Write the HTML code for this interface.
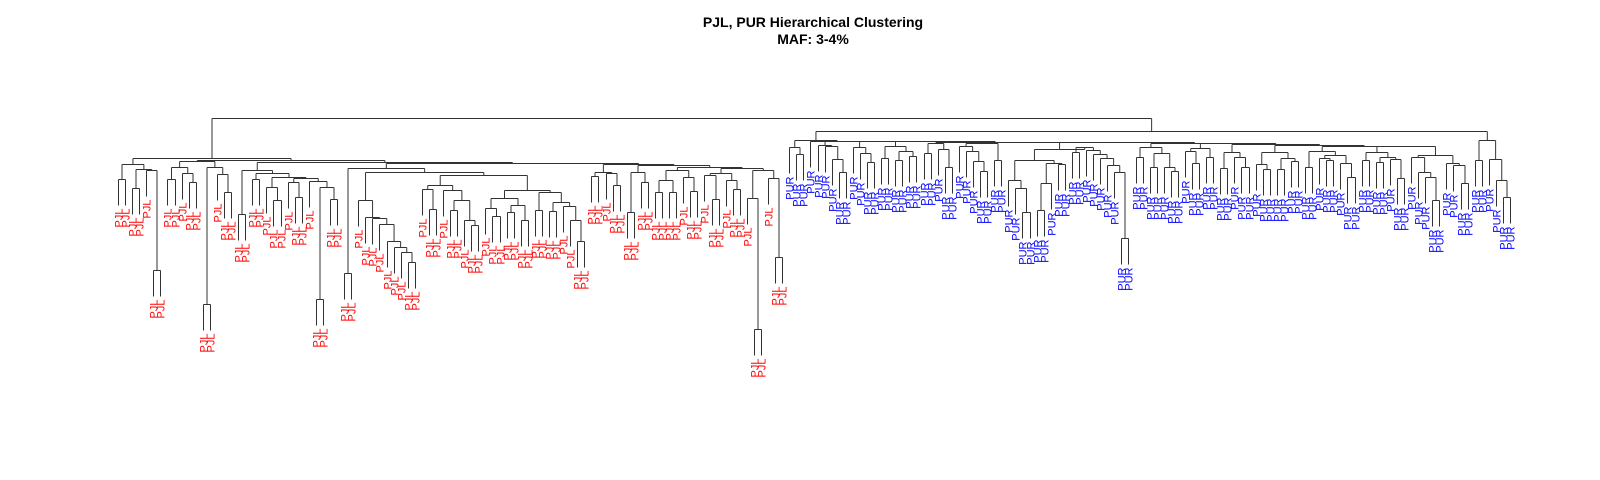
<!DOCTYPE html>
<html><head><meta charset="utf-8">
<style>
html,body{margin:0;padding:0;background:#fff;}
svg{display:block;}
</style></head>
<body>
<svg id="chart" width="1600" height="480" viewBox="0 0 1600 480" xmlns="http://www.w3.org/2000/svg">
<rect width="1600" height="480" fill="#fff"/>
<text x="813" y="27" text-anchor="middle" font-family="Liberation Sans, sans-serif" font-weight="bold" font-size="14" fill="#000">PJL, PUR Hierarchical Clustering</text>
<text x="813" y="44" text-anchor="middle" font-family="Liberation Sans, sans-serif" font-weight="bold" font-size="14" fill="#000">MAF: 3-4%</text>
<g id="links"></g>
<g id="labels"></g>
</svg>
<script>
// population labels
const J = 'PJL';
const R = 'PUR';
const labelColors = {PJL: '#ff0000', PUR: '#0000ff'};

// merge heights (h) and leaves as nested [height, childA, childB]
const G1 = [296, [281,J,J], [291,[272,J,J],[290,J,[190,J,J]]]];
const G2 = [293, [281,J,J], [287,J,[278,J,J]]];
const G3 = [293, [156,J,J], [286,J,[268,J,J]]];
const G4 = [290, [246,J,J], [287,[281,J,J],[283,[273,J,[260,J,J]],[282,[278,J,[263,J,J]],[279,J,[273,[161,J,J],[261,J,J]]]]]]];
const LADDER = [260,J,[243,J,[242,J,[236,J,[219,J,[213,J,[208,J,[198,J,J]]]]]]]];
const M1 = [275, [271,J,[251,J,J]], [270,J,[260,[250,J,J],[240,J,[235,J,J]]]]];
const M2A = [262, [252,J,[244,J,J]], [255,[248,J,J],[240,J,J]]];
const M2B = [268, [250,J,J], [258,[249,J,J],[254,J,[240,J,[219,J,J]]]]];
const G5 = [292, [187,J,J], [288, LADDER, [285, M1, [270, M2A, M2B]]]];
const G6 = [288, [284,J,J], [287,J,[275,J,J]]];
const G7 = [295, [288,[248,J,J],[278,J,J]], [293, [290,[280,[268,J,J],[268,J,J]],[283,J,[269,J,J]]], [292,[287,[285,J,[261,J,J]],[280,J,[271,J,J]]],[290,[262,J,[131,J,J]],[282,J,[203,J,J]]]]]];
const PJL = [302, G1, [300, [299, G2, G3], [298, G4, [297, G5, [296, G6, G7]]]]];

const C1 = [313, R, [306,R,R]];
const C2 = R;
const C3 = [315, R, [314,R,[301,R,[288,R,R]]]];
const C4 = [313, R, [307,R,[298,R,R]]];
const C5 = [314, [302,R,R], [309,[300,R,R],[304,R,R]]];
const C6 = [317, [307,R,R], [311,R,[293,R,R]]];
const C7 = [317, [314,R,[309,R,[299,R,[289,R,R]]]], [300,R,R]];
const C8A = [300, [280,R,[272,R,[248,R,R]]], [297,[277,[250,R,R],R],[296,R,R]]];
const C8B = [313, [308,R,R], [310,R,[306,R,[302,R,[295,R,[288,R,[222,R,R]]]]]]];
const C8 = [311, C8A, C8B];
const D1 = [313, [303,R,R], [307,[293,R,R],[293,R,[289,R,R]]]];
const D2 = [312, [309,R,[297,R,R]], [303,R,R]];
const D3 = [308, [292,R,R], [303,R,[293,R,R]]];
const D4 = [308, [296,R,[291,R,R]], [302,[291,R,R],[299,R,R]]];
const D5 = [309, [293,R,R], [305,[302,R,[300,R,R]],[297,R,[283,R,R]]]];
const D6 = [308, [300,R,R], [303,[298,R,R],[301,R,[282,R,R]]]];
const D7 = [305, [303,R,[288,R,[283,R,[260,R,R]]]], [297,R,[295,R,[277,R,R]]]];
// main PUR group is a right-nested chain of these clusters
const PUR_CLUSTERS = [C1, C2, C3, C4, C5, C6, C7, C8, D1, D2, D3, D4, D5, D6, D7];
const PUR_CHAIN_H = [320, 319.5, 319, 318.8, 318.6, 318.4, 318.2, 318, 317.5, 317, 316, 315, 314.5, 314];
const PUR_SMALL = [320, [300,R,R], [301,R,[280,R,[263,R,R]]]];
const ROOT_H = 342;
const PUR_H = 329;

function buildChain(list, hs){
  let node = list[list.length - 1];
  for (let i = list.length - 2; i >= 0; i--) node = [hs[i], list[i], node];
  return node;
}
const PUR = [PUR_H, buildChain(PUR_CLUSTERS, PUR_CHAIN_H), PUR_SMALL];
const ROOT = [ROOT_H, PJL, PUR];

// axis / layout functions
const X0 = 118, X1 = 1510, HANG = 26;
function yScale(h){ return 460 - h; }
function countLeaves(n){ return typeof n === 'string' ? 1 : countLeaves(n[1]) + countLeaves(n[2]); }
const nLeaves = countLeaves(ROOT);
function xScale(i){ return X0 + i * (X1 - X0) / (nLeaves - 1); }

const NS = 'http://www.w3.org/2000/svg';
const gL = document.getElementById('links');
const gT = document.getElementById('labels');
let leafIdx = 0;

function line(x1,y1,x2,y2,name){
  const l = document.createElementNS(NS,'line');
  l.setAttribute('x1', x1); l.setAttribute('y1', y1);
  l.setAttribute('x2', x2); l.setAttribute('y2', y2);
  l.setAttribute('stroke', '#333'); l.setAttribute('stroke-width', '1');
  
  
  gL.appendChild(l);
}

function layout(node, parentY){
  if (typeof node === 'string'){
    const x = Math.round(xScale(leafIdx++)) + 0.5;
    const yEnd = parentY + HANG;
    line(x, parentY, x, yEnd, 'leaf-branch');
    const t = document.createElementNS(NS,'text');
    t.setAttribute('transform', 'translate(' + (x + 4) + ',' + (yEnd + 3) + ') rotate(-90)');
    t.setAttribute('text-anchor', 'end');
    t.setAttribute('font-family', 'Liberation Sans, sans-serif');
    t.setAttribute('font-size', '11');
    t.setAttribute('fill', labelColors[node]);
    
    
    t.textContent = node;
    gT.appendChild(t);
    return {x: x, y: parentY};
  }
  const y = Math.round(yScale(node[0])) + 0.5;
  const a = layout(node[1], y);
  const b = layout(node[2], y);
  if (typeof node[1] !== 'string') line(a.x, y, a.x, a.y, 'branch');
  if (typeof node[2] !== 'string') line(b.x, y, b.x, b.y, 'branch');
  line(a.x, y, b.x, y, 'merge-bar');
  return {x: (a.x + b.x) / 2, y: y};
}
layout(ROOT, yScale(ROOT[0]) + 0.5);
</script>
</body></html>
